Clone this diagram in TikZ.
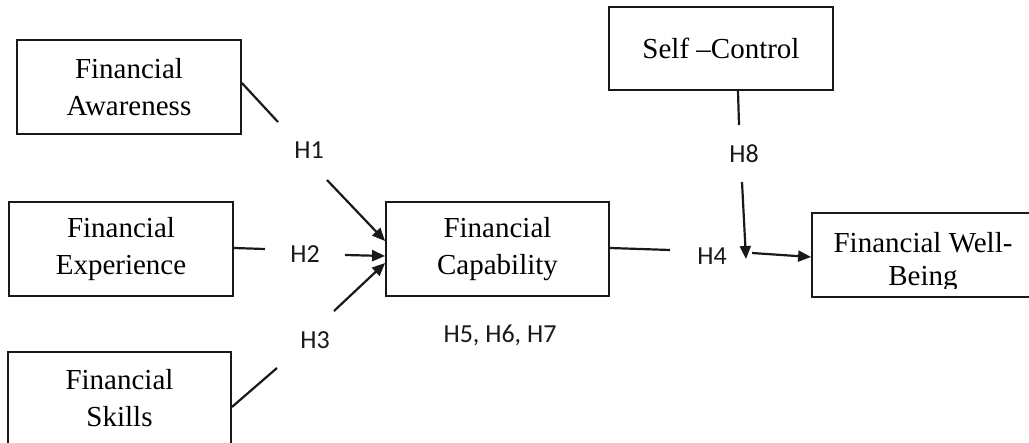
\documentclass[tikz,border=0pt]{standalone}
\usepackage{fontspec}
\setmainfont{Liberation Serif}
\newfontfamily\labelfont{Carlito}
\usetikzlibrary{arrows.meta,calc}
\begin{document}
\begin{tikzpicture}[x=1pt,y=-1pt,
  box/.style={draw=black!90, line width=1.8pt, inner sep=0pt, align=center,
    font=\fontsize{29}{37}\selectfont},
  hlab/.style={font=\labelfont\fontsize{26}{30}\selectfont, inner sep=0pt, text=black!90},
  seg/.style={line width=2.2pt, draw=black!90},
  arr/.style={line width=2.2pt, draw=black!90, -{Triangle[length=13pt,width=11pt]}}]
\fill[white] (0,0) rectangle (1029,443);
\useasboundingbox (0,0) rectangle (1029,443);
% boxes
\node[box, minimum width=224pt, minimum height=94pt] (fa) at (129,87) {Financial\\Awareness};
\node[box, minimum width=224pt, minimum height=94pt] (fe) at (121,249) {Financial\\Experience};
\node[box, minimum width=223pt, minimum height=93pt] (fs) at (119.5,398.5) {Financial\\Skills};
\node[box, minimum width=223pt, minimum height=94pt] (fc) at (497.5,249) {Financial\\Capability};
\node[box, minimum width=224pt, minimum height=83pt] (sc) at (721,48.5) {Self –Control};
\node[box, minimum width=222pt, minimum height=84pt] (fwb) at (923,255) {};
\begin{scope}
  \clip (812,213) rectangle (1034,289);
  \node[align=center, inner sep=0pt, font=\fontsize{29}{33}\selectfont] (fwbt) at (923,261.6) {Financial Well-\\Being};
\end{scope}
% labels
\node[hlab] (h1) at (309,150) {H1};
\node[hlab] (h2) at (305,254) {H2};
\node[hlab] (h3) at (315,340) {H3};
\node[hlab] (h4) at (712,256) {H4};
\node[hlab] (h8) at (744,154) {H8};
\node[hlab] (h567) at (500,335) {H5, H6, H7};
\coordinate (h8tip) at (746,259);
% connectors
\draw[seg] ($(fa.east)+(0,-4)$) -- ($(h1)+(-31,-28)$);
\draw[arr] ($(h1)+(18,30)$) -- ($(fc.west)+(0,-8)$);
\draw[seg] ($(fe.east)+(0,-1)$) -- ($(h2)+(-40,-5)$);
\draw[arr] ($(h2)+(40,1)$) -- ($(fc.west)+(0,7)$);
\draw[seg] ($(fs.east)+(0,8.5)$) -- ($(h3)+(-38,28)$);
\draw[arr] ($(h3)+(19,-29)$) -- ($(fc.west)+(0,14)$);
\draw[seg] ($(fc.east)+(0,-1)$) -- ($(h4)+(-42,-6)$);
\draw[arr] ($(h4)+(40,-3)$) -- ($(fwb.west)+(0,2)$);
\draw[seg] ($(sc.south)+(17,0)$) -- ($(h8)+(-5,-29)$);
\draw[arr] ($(h8)+(-2,28)$) -- (h8tip);
\end{tikzpicture}
\end{document}
